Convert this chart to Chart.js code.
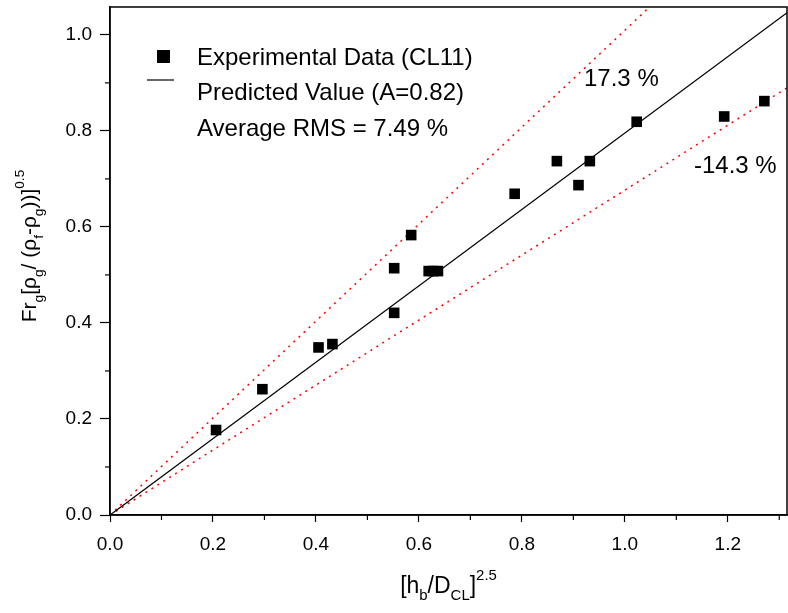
<!DOCTYPE html>
<html>
<head>
<meta charset="utf-8">
<script src="https://cdn.jsdelivr.net/npm/chart.js@4.4.0/dist/chart.umd.min.js"></script>
<style>
  html, body { margin: 0; padding: 0; background: #fff; }
  #wrap { width: 788px; height: 613px; }
</style>
</head>
<body>
<div id="wrap"><canvas id="grafico" width="788" height="613"></canvas></div>
<script>
// Datos
const expX = [0.206, 0.296, 0.405, 0.432, 0.552, 0.552, 0.585, 0.619, 0.628, 0.637, 0.786, 0.868, 0.910, 0.932, 1.023, 1.193, 1.271];
const expY = [0.177, 0.262, 0.349, 0.356, 0.421, 0.514, 0.583, 0.508, 0.508, 0.508, 0.669, 0.737, 0.687, 0.737, 0.819, 0.830, 0.862];

// Lineas: predicho y bandas +17.3% / -14.3%
const predX = [0, 1.32];
const predY = [0, 1.05];
const altoX = [0, 1.05];
const altoY = [0, 1.06];
const bajoX = [0, 1.32];
const bajoY = [0, 0.893];

const xTicks = [0, 0.1, 0.2, 0.3, 0.4, 0.5, 0.6, 0.7, 0.8, 0.9, 1.0, 1.1, 1.2, 1.3];
const yTicks = [0, 0.1, 0.2, 0.3, 0.4, 0.5, 0.6, 0.7, 0.8, 0.9, 1.0];

const FUENTE = '"Liberation Sans", Arial, sans-serif';

function puntos(xs, ys) {
  return xs.map((x, i) => ({ x: x, y: ys[i] }));
}

function esMayor(v) {
  return Math.abs(Math.round(v * 10) % 2) === 0;
}

// texto con sub/superindices: partes = [[texto, 'n'|'sub'|'sup'], ...]
function textoRico(ctx, partes, x, y, size) {
  let cx = x;
  partes.forEach(([t, tipo]) => {
    let s = size, dy = 0;
    if (tipo === 'sub') { s = size * 0.65; dy = size * 0.32; }
    if (tipo === 'sup') { s = size * 0.65; dy = -size * 0.55; }
    ctx.font = s + 'px ' + FUENTE;
    ctx.fillText(t, cx, y + dy);
    cx += ctx.measureText(t).width;
  });
  return cx - x;
}

function anchoRico(ctx, partes, size) {
  let w = 0;
  partes.forEach(([t, tipo]) => {
    const s = tipo === 'n' ? size : size * 0.65;
    ctx.font = s + 'px ' + FUENTE;
    w += ctx.measureText(t).width;
  });
  return w;
}

const extras = {
  id: 'extras',
  afterDraw(chart) {
    const ctx = chart.ctx;
    const a = chart.chartArea;
    const xs = chart.scales.x, ys = chart.scales.y;
    ctx.save();
    ctx.strokeStyle = '#000';
    ctx.lineWidth = 1.5;
    ctx.strokeRect(a.left, a.top, a.right - a.left, a.bottom - a.top);

    // ticks menores
    ctx.lineWidth = 1.2;
    xTicks.forEach(v => {
      if (esMayor(v)) return;
      const px = xs.getPixelForValue(v);
      ctx.beginPath(); ctx.moveTo(px, a.bottom); ctx.lineTo(px, a.bottom + 5); ctx.stroke();
    });
    yTicks.forEach(v => {
      if (esMayor(v)) return;
      const py = ys.getPixelForValue(v);
      ctx.beginPath(); ctx.moveTo(a.left, py); ctx.lineTo(a.left - 5, py); ctx.stroke();
    });

    ctx.fillStyle = '#000';
    ctx.textBaseline = 'alphabetic';

    // leyenda
    ctx.fillRect(157, 50, 13, 13);
    ctx.lineWidth = 1.2;
    ctx.beginPath(); ctx.moveTo(147, 80); ctx.lineTo(174, 80); ctx.stroke();
    ctx.font = '24px ' + FUENTE;
    ctx.textAlign = 'left';
    ctx.fillText('Experimental Data (CL11)', 197, 65);
    ctx.fillText('Predicted Value (A=0.82)', 197, 100);
    ctx.fillText('Average RMS = 7.49 %', 197, 136);

    ctx.font = '24px ' + FUENTE;
    ctx.fillText('17.3 %', 584, 86);
    ctx.fillText('-14.3 %', 694, 173);

    // titulo eje x
    const tx = [['[h', 'n'], ['b', 'sub'], ['/D', 'n'], ['CL', 'sub'], [']', 'n'], ['2.5', 'sup']];
    const wx = anchoRico(ctx, tx, 23);
    textoRico(ctx, tx, (a.left + a.right) / 2 - wx / 2, 593, 23);

    // titulo eje y
    const ty = [['Fr', 'n'], ['g', 'sub'], ['[\u03c1', 'n'], ['g', 'sub'], ['/ (\u03c1', 'n'], ['f', 'sub'], ['-\u03c1', 'n'], ['g', 'sub'], ['))]', 'n'], ['0.5', 'sup']];
    const wy = anchoRico(ctx, ty, 21);
    ctx.translate(36, 246);
    ctx.rotate(-Math.PI / 2);
    textoRico(ctx, ty, -wy / 2, 0, 21);
    ctx.restore();
  }
};

const ctx = document.getElementById('grafico').getContext('2d');
new Chart(ctx, {
  type: 'scatter',
  data: {
    datasets: [
      {
        label: 'Experimental Data (CL11)',
        data: puntos(expX, expY),
        pointStyle: 'rect',
        pointRadius: 7.5,
        backgroundColor: '#000',
        borderColor: '#000',
        borderWidth: 0,
        order: 0
      },
      {
        label: 'Predicted Value (A=0.82)',
        data: puntos(predX, predY),
        showLine: true,
        pointRadius: 0,
        borderColor: '#000',
        borderWidth: 1.3,
        order: 1
      },
      {
        label: '17.3 %',
        data: puntos(altoX, altoY),
        showLine: true,
        pointRadius: 0,
        borderColor: '#ff0000',
        borderWidth: 1.5,
        borderDash: [2, 5],
        order: 2
      },
      {
        label: '-14.3 %',
        data: puntos(bajoX, bajoY),
        showLine: true,
        pointRadius: 0,
        borderColor: '#ff0000',
        borderWidth: 1.5,
        borderDash: [2, 5],
        order: 2
      }
    ]
  },
  options: {
    responsive: false,
    animation: false,
    layout: { autoPadding: false, padding: { left: 0, right: 1, top: 7, bottom: 0 } },
    plugins: { legend: { display: false }, tooltip: { enabled: false } },
    scales: {
      x: {
        type: 'linear',
        min: 0, max: 1.315,
        afterBuildTicks: s => { s.ticks = xTicks.map(v => ({ value: v })); },
        border: { color: '#000', width: 1.5 },
        grid: {
          drawOnChartArea: false,
          tickLength: 7,
          tickWidth: 1.2,
          tickColor: c => esMayor(c.tick.value) ? '#000' : 'rgba(0,0,0,0)'
        },
        ticks: {
          color: '#000',
          padding: 11,
          maxRotation: 0,
          autoSkip: false,
          font: { family: FUENTE, size: 19 },
          callback: v => esMayor(v) ? v.toFixed(1) : ''
        },
        afterFit: s => { s.height = 98; s.paddingLeft = 0; s.paddingRight = 0; }
      },
      y: {
        type: 'linear',
        min: 0, max: 1.058,
        afterBuildTicks: s => { s.ticks = yTicks.map(v => ({ value: v })); },
        border: { color: '#000', width: 1.5 },
        grid: {
          drawOnChartArea: false,
          tickLength: 10,
          tickWidth: 1.2,
          tickColor: c => esMayor(c.tick.value) ? '#000' : 'rgba(0,0,0,0)'
        },
        ticks: {
          color: '#000',
          padding: 8,
          autoSkip: false,
          font: { family: FUENTE, size: 19 },
          callback: v => esMayor(v) ? v.toFixed(1) : ''
        },
        afterFit: s => { s.width = 110; s.paddingTop = 0; s.paddingBottom = 0; }
      }
    }
  },
  plugins: [extras]
});
</script>
</body>
</html>
